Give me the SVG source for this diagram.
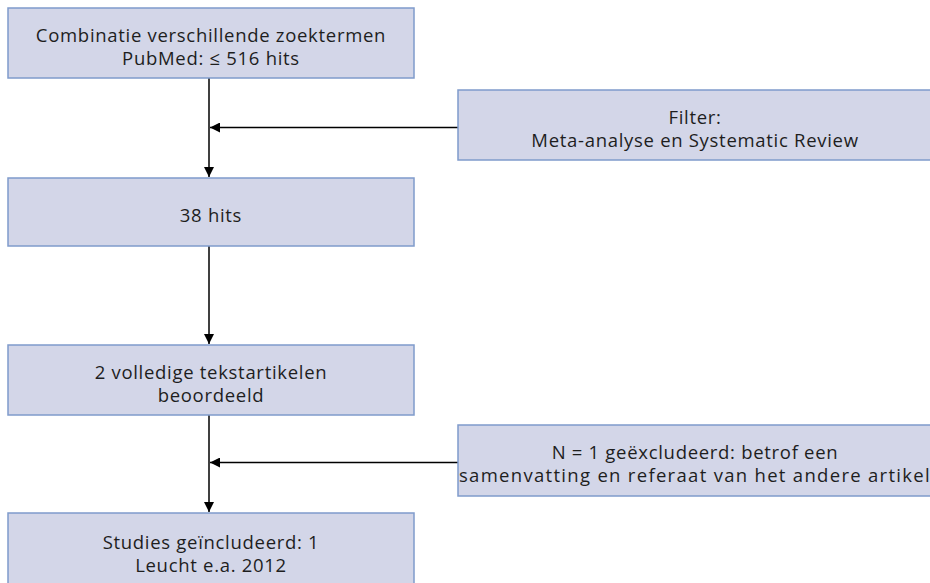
<svg xmlns="http://www.w3.org/2000/svg" width="930" height="583" viewBox="0 0 930 583">
<style>
.box{fill:#d3d6e8;stroke:#7f9bcb;stroke-width:1.5}
.t{font-family:"Open Sans","Noto Sans",sans-serif;font-size:18.5px;letter-spacing:0.7px;fill:#1e1e1e;text-anchor:middle}
.c{stroke:#000;stroke-width:1.5;fill:none}
</style>
<defs>
<marker id="ah" markerWidth="10" markerHeight="10" refX="10" refY="5" orient="auto" markerUnits="userSpaceOnUse" viewBox="0 0 10 10">
<path d="M0,0 L10,5 L0,10 z" fill="#000"/>
</marker>
</defs>
<g id="connectors">
<line class="c" x1="209" y1="78" x2="209" y2="177" marker-end="url(#ah)"/>
<line class="c" x1="458" y1="127.5" x2="210" y2="127.5" marker-end="url(#ah)"/>
<line class="c" x1="209" y1="246" x2="209" y2="344" marker-end="url(#ah)"/>
<line class="c" x1="209" y1="415" x2="209" y2="512" marker-end="url(#ah)"/>
<line class="c" x1="458" y1="462.5" x2="210" y2="462.5" marker-end="url(#ah)"/>
</g>
<g id="n1"><rect class="box" x="8" y="8" width="406" height="70"/>
<text class="t" x="211" y="42">Combinatie verschillende zoektermen</text>
<text class="t" x="211" y="65">PubMed: ≤ 516 hits</text></g>
<g id="n2"><rect class="box" x="458" y="90" width="474" height="70"/>
<text class="t" x="695" y="124">Filter:</text>
<text class="t" x="695" y="147">Meta-analyse en Systematic Review</text></g>
<g id="n3"><rect class="box" x="8" y="178" width="406" height="68"/>
<text class="t" x="211" y="222">38 hits</text></g>
<g id="n4"><rect class="box" x="8" y="345" width="406" height="70"/>
<text class="t" x="211" y="379">2 volledige tekstartikelen</text>
<text class="t" x="211" y="402">beoordeeld</text></g>
<g id="n5"><rect class="box" x="458" y="425" width="474" height="71"/>
<text class="t" x="695" y="459">N = 1 geëxcludeerd: betrof een</text>
<text class="t" x="695" y="482" style="letter-spacing:1.3px">samenvatting en referaat van het andere artikel</text></g>
<g id="n6"><rect class="box" x="8" y="513" width="406" height="75"/>
<text class="t" x="211" y="549">Studies geïncludeerd: 1</text>
<text class="t" x="211" y="572">Leucht e.a. 2012</text></g>
</svg>
